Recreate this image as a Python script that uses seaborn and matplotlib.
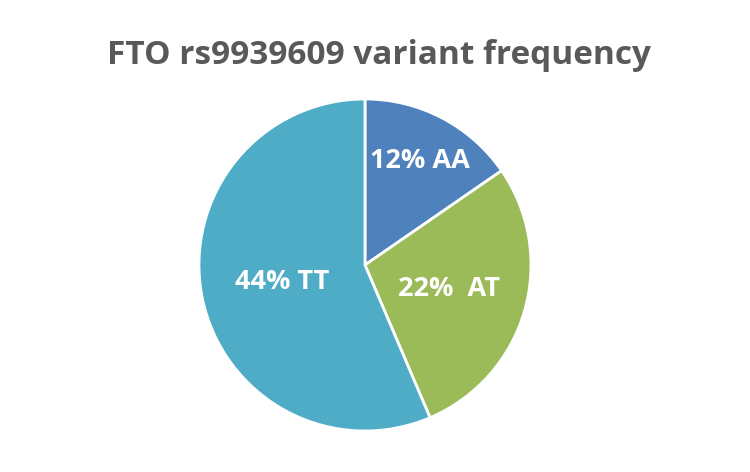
import numpy as np
import seaborn as sns
import matplotlib.pyplot as plt

# variant frequencies as labelled on the chart
genotypes = ["AA", "AT", "TT"]
freqs = [12, 22, 44]
labels = ["12% AA", "22%  AT", "44% TT"]
colors = ["#4F81BD", "#9BBB59", "#4FACC6"]

sns.set_theme(style="white")
plt.rcParams["font.family"] = ["Open Sans", "DejaVu Sans"]

fig = plt.figure(figsize=(7.5, 4.72), dpi=100)
ax = fig.add_axes([0.2653, 0.0869, 0.4427, 0.7034])

wedges, _ = ax.pie(freqs, colors=colors, startangle=90, counterclock=False,
                   wedgeprops=dict(edgecolor="white", linewidth=2))
ax.set_xlim(-1, 1)
ax.set_ylim(-1, 1)
ax.set_aspect("equal")

# label distance from centre, per slice
dists = [0.71, 0.53, 0.51]
for w, lab, d in zip(wedges, labels, dists):
    mid = np.deg2rad((w.theta1 + w.theta2) / 2)
    ax.text(d * np.cos(mid), d * np.sin(mid), lab, ha="center", va="center",
            color="white", fontsize=19.5, fontweight="bold")

fig.text(0.505, 0.883, "FTO rs9939609 variant frequency", ha="center", va="center",
         color="#595959", fontsize=24, fontweight="bold")

fig.savefig("out.png", dpi=100)
